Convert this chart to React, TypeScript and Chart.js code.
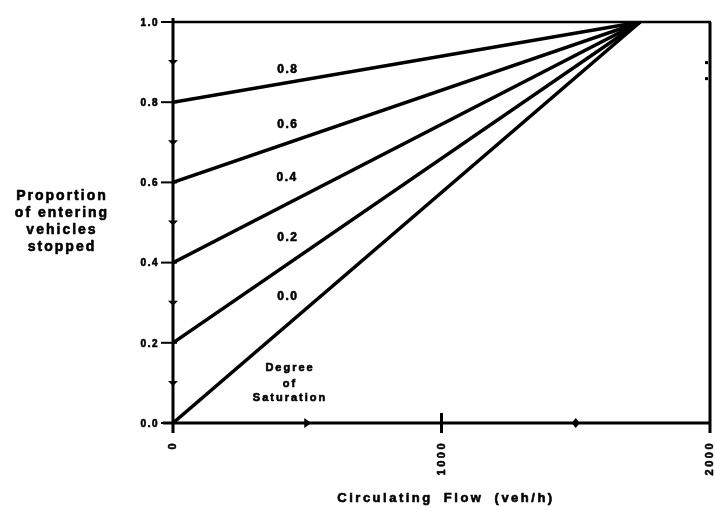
import React, { useEffect, useRef } from "react";
import { Chart, registerables } from "chart.js";

Chart.register(...registerables);

// ---- data ----
const degreeLabels = ["0.8", "0.6", "0.4", "0.2", "0.0"];
const startProportions = [0.8, 0.6, 0.4, 0.2, 0.0]; // proportion stopped at zero circulating flow
const endFlow = 1740; // circulating flow where all lines meet
const endProportion = 1.0;

const flowTicks = [0, 1000, 2000];
const flowMinorTicks = [500, 1500];
const propTicks = [0.0, 0.2, 0.4, 0.6, 0.8, 1.0];
const propMinorTicks = [0.1, 0.3, 0.5, 0.7, 0.9];

const labelFlows = [428, 428, 425, 428, 428];
const labelProps = [0.88, 0.743, 0.611, 0.461, 0.314];
const noteLines = ["Degree", "of", "Saturation"];
const noteFlow = 436;
const noteProps = [0.137, 0.097, 0.062];

const yTitleLines = ["Proportion", "of entering", "vehicles", "stopped"];
const xTitle = "Circulating Flow (veh/h)";

const FONT = '"Liberation Sans", Arial, sans-serif';

function heavyText(ctx: CanvasRenderingContext2D, t: string, x: number, y: number) {
  ctx.fillText(t, x, y);
  ctx.strokeText(t, x, y);
}

const decorPlugin = {
  id: "decor",
  afterDraw(chart: any) {
    const ctx = chart.ctx as CanvasRenderingContext2D;
    const xs = chart.scales.x;
    const ys = chart.scales.y;
    const X = (v: number) => xs.getPixelForValue(v);
    const Y = (v: number) => ys.getPixelForValue(v);
    const left = X(0), right = X(2000), top = Y(1), bottom = Y(0);

    ctx.save();
    ctx.strokeStyle = "#000";
    ctx.fillStyle = "#000";
    ctx.lineCap = "butt";

    // frame
    ctx.lineWidth = 3;
    ctx.beginPath();
    ctx.moveTo(left, top - 4);
    ctx.lineTo(left, bottom + 10);
    ctx.moveTo(left - 10, bottom);
    ctx.lineTo(right, bottom);
    ctx.moveTo(right, top);
    ctx.lineTo(right, bottom + 10);
    ctx.stroke();
    ctx.lineWidth = 2.5;
    ctx.beginPath();
    ctx.moveTo(left, top);
    ctx.lineTo(right + 1, top);
    ctx.stroke();

    // y major ticks
    ctx.lineWidth = 2;
    propTicks.forEach((v) => {
      ctx.beginPath();
      ctx.moveTo(left - 12, Y(v));
      ctx.lineTo(left + 4, Y(v));
      ctx.stroke();
    });
    // y minor ticks (small arrowheads)
    propMinorTicks.forEach((v) => {
      const py = Y(v);
      ctx.beginPath();
      ctx.moveTo(left - 5, py - 2);
      ctx.lineTo(left + 5, py - 2);
      ctx.lineTo(left, py + 3);
      ctx.closePath();
      ctx.fill();
    });
    // right axis small nubs
    [0.9, 0.86].forEach((v) => {
      ctx.fillRect(right - 5, Y(v) - 1, 3, 3);
    });
    // x major tick at 1000
    ctx.lineWidth = 3;
    flowTicks.forEach((v) => {
      if (v === 0 || v === 2000) return;
      ctx.beginPath();
      ctx.moveTo(X(v), bottom - 10);
      ctx.lineTo(X(v), bottom + 10);
      ctx.stroke();
    });
    // x minor ticks
    flowMinorTicks.forEach((v, i) => {
      const px = X(v);
      ctx.beginPath();
      if (i === 0) {
        ctx.moveTo(px - 3, bottom - 5);
        ctx.lineTo(px + 4, bottom);
        ctx.lineTo(px - 3, bottom + 5);
      } else {
        ctx.moveTo(px, bottom - 5);
        ctx.lineTo(px + 4, bottom);
        ctx.lineTo(px, bottom + 5);
        ctx.lineTo(px - 4, bottom);
      }
      ctx.closePath();
      ctx.fill();
    });

    const anyCtx = ctx as any;
    ctx.lineWidth = 0.6;
    ctx.lineJoin = "round";
    // y tick labels
    ctx.font = `bold 10px ${FONT}`;
    anyCtx.letterSpacing = "1.5px";
    ctx.textAlign = "right";
    ctx.textBaseline = "middle";
    propTicks.forEach((v) => {
      heavyText(ctx, v.toFixed(1), left - 14, Y(v) + 1);
    });

    // x tick labels (rotated)
    ctx.font = `bold 11px ${FONT}`;
    anyCtx.letterSpacing = "2.5px";
    flowTicks.forEach((v) => {
      ctx.save();
      ctx.translate(X(v), bottom + 18);
      ctx.rotate(-Math.PI / 2);
      ctx.textAlign = "right";
      ctx.textBaseline = "middle";
      heavyText(ctx, String(v), 0, 0);
      ctx.restore();
    });

    // line labels
    ctx.font = `bold 12px ${FONT}`;
    anyCtx.letterSpacing = "1.5px";
    ctx.textAlign = "center";
    ctx.textBaseline = "middle";
    degreeLabels.forEach((t, i) => {
      heavyText(ctx, t, X(labelFlows[i]), Y(labelProps[i]));
    });

    // Degree of Saturation note
    ctx.font = `bold 11px ${FONT}`;
    anyCtx.letterSpacing = "2px";
    noteLines.forEach((t, i) => {
      heavyText(ctx, t, X(noteFlow), Y(noteProps[i]));
    });

    // y title
    ctx.font = `bold 14px ${FONT}`;
    anyCtx.letterSpacing = "2px";
    yTitleLines.forEach((t, i) => {
      heavyText(ctx, t, 62, 196 + i * 17);
    });

    // x title
    ctx.font = `bold 13px ${FONT}`;
    anyCtx.letterSpacing = "2.5px";
    anyCtx.wordSpacing = "5px";
    heavyText(ctx, xTitle, 446, 498);
    anyCtx.wordSpacing = "0px";
    anyCtx.letterSpacing = "0px";

    ctx.restore();
  },
};

export default function App() {
  const ref = useRef<HTMLCanvasElement | null>(null);

  useEffect(() => {
    if (!ref.current) return;
    const datasets = startProportions.map((p, i) => ({
      label: degreeLabels[i],
      data: [
        { x: 0, y: p },
        { x: endFlow, y: endProportion },
      ],
      showLine: true,
      borderColor: "#000",
      backgroundColor: "#000",
      borderWidth: 3.5,
      pointRadius: 0,
      tension: 0,
    }));
    const chart = new Chart(ref.current, {
      type: "scatter",
      data: { datasets },
      options: {
        animation: false,
        responsive: false,
        events: [],
        layout: { padding: { left: 173, right: 5, top: 22, bottom: 87 } },
        plugins: { legend: { display: false }, tooltip: { enabled: false } },
        scales: {
          x: { type: "linear", min: 0, max: 2000, display: false },
          y: { type: "linear", min: 0, max: 1, display: false },
        },
      },
      plugins: [decorPlugin],
    } as any);
    return () => chart.destroy();
  }, []);

  return (
    <div style={{ position: "absolute", left: 0, top: 0, width: 715, height: 510, background: "#fff" }}>
      <canvas ref={ref} width={715} height={510} style={{ display: "block" }} />
    </div>
  );
}
